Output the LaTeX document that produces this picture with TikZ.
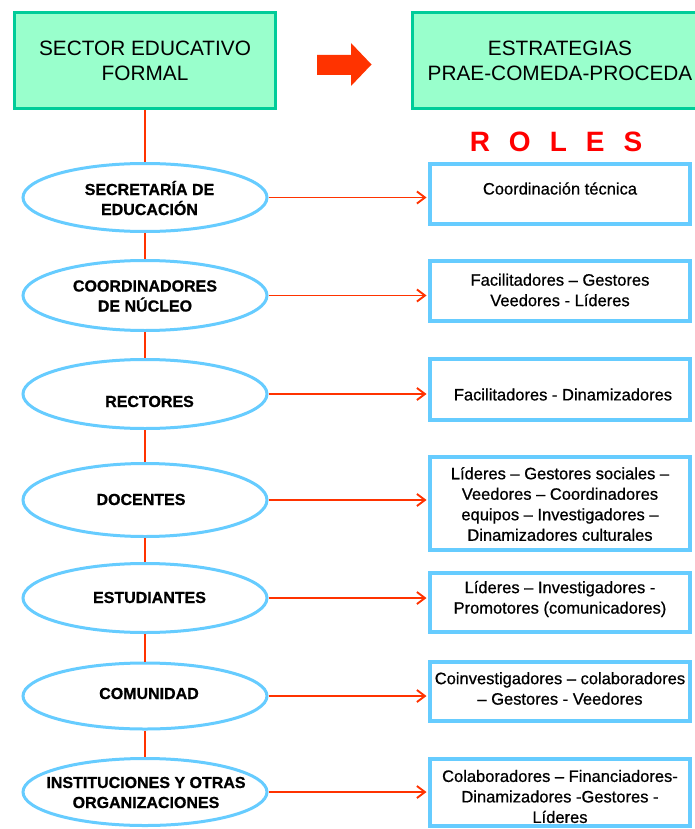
\documentclass[tikz,border=0pt]{standalone}
\usepackage{fontspec}
\setmainfont{Liberation Sans}
\newfontfamily\rolefont{Liberation Sans}[FakeBold=0.7]
\newfontfamily\actorfont{Liberation Sans Bold}[FakeBold=0.9]
\usetikzlibrary{shapes.geometric,arrows.meta}
\definecolor{mintfill}{HTML}{99FFCC}
\definecolor{mintline}{HTML}{00CC99}
\definecolor{skyline}{HTML}{66CCFF}
\definecolor{linkred}{HTML}{FF3300}
\definecolor{rolered}{HTML}{FF0000}
\begin{document}
\begin{tikzpicture}[x=1pt,y=-1pt,
  headbox/.style={draw=mintline, fill=mintfill, line width=3pt, minimum width=261pt, minimum height=96pt, inner sep=0pt, align=center, font=\fontsize{20.8}{25}\selectfont},
  actor/.style={ellipse, draw=skyline, line width=3pt, fill=white, minimum width=244pt, inner sep=0pt},
  actortext/.style={font=\actorfont\fontsize{16}{20}\selectfont, align=center, inner sep=0pt},
  rolebox/.style={draw=skyline, line width=4pt, fill=white, minimum width=260pt, inner sep=0pt},
  roletext/.style={font=\rolefont\fontsize{16.5}{20.5}\selectfont, align=center, inner sep=0pt},
  link/.style={draw=linkred, line width=1.9pt},
  roleto/.style={link, -{Straight Barb[length=8pt,width=12pt]}, shorten >=1.5pt}
]
\useasboundingbox (0,0) rectangle (695,829);
\fill[white] (0,0) rectangle (695,829);

% headers
\node[headbox] (sector) at (145,60.5) {SECTOR EDUCATIVO\\FORMAL};
\node[headbox, minimum width=295pt] (estr) at (560,60.5) {ESTRATEGIAS\\PRAE-COMEDA-PROCEDA};
\fill[linkred] (317,55) -- (351,55) -- (351,43) -- (371.5,64.5) -- (351,86) -- (351,75) -- (317,75) -- cycle;
\node[font=\bfseries\fontsize{28}{30}\selectfont, text=rolered, inner sep=0pt] (roles) at (556,142) {R\hspace{19pt}O\hspace{19pt}L\hspace{19pt}E\hspace{19pt}S};

% actors
\node[actor, minimum height=68pt] (e1) at (145,197.5) {};
\node[actor, minimum height=70pt] (e2) at (145,295.5) {};
\node[actor, minimum height=69pt] (e3) at (145,394) {};
\node[actor, minimum height=73pt] (e4) at (145,500) {};
\node[actor, minimum height=69pt] (e5) at (145,598) {};
\node[actor, minimum height=66pt] (e6) at (145,696) {};
\node[actor, minimum height=67pt] (e7) at (145,792) {};

\node[actortext] (e1t) at (149.5,198) {SECRETARÍA DE\\EDUCACIÓN};
\node[actortext] (e2t) at (145,296) {COORDINADORES\\DE NÚCLEO};
\node[actortext] (e3t) at (149.5,401.5) {RECTORES};
\node[actortext] (e4t) at (141,499.5) {DOCENTES};
\node[actortext] (e5t) at (149.5,597.5) {ESTUDIANTES};
\node[actortext] (e6t) at (149,693.5) {COMUNIDAD};
\node[actortext] (e7t) at (146,792.5) {INSTITUCIONES Y OTRAS\\ORGANIZACIONES};

% role boxes
\node[rolebox, minimum height=60pt] (b1) at (560,194) {};
\node[rolebox, minimum height=60pt] (b2) at (560,291) {};
\node[rolebox, minimum height=61pt] (b3) at (560,389.5) {};
\node[rolebox, minimum height=93pt] (b4) at (560,503.5) {};
\node[rolebox, minimum height=59pt] (b5) at (560,602.5) {};
\node[rolebox, minimum height=59pt] (b6) at (560,691.5) {};
\node[rolebox, minimum height=67pt] (b7) at (560,792.5) {};

\node[roletext] (b1t) at (560,188.5) {Coordinación técnica};
\node[roletext] (b2t) at (560,290) {Facilitadores – Gestores\\Veedores - Líderes};
\node[roletext] (b3t) at (563,394.5) {Facilitadores - Dinamizadores};
\node[roletext] (b4t) at (560,504) {Líderes – Gestores sociales –\\Veedores – Coordinadores\\equipos – Investigadores –\\Dinamizadores culturales};
\node[roletext] (b5t) at (560,599) {Líderes – Investigadores -\\Promotores (comunicadores)};
\node[roletext] (b6t) at (560,688.5) {Coinvestigadores – colaboradores\\– Gestores - Veedores};
\node[roletext] (b7t) at (560,796.5) {Colaboradores – Financiadores-\\Dinamizadores -Gestores -\\Líderes};

% vertical spine
\draw[link] (sector.south) -- (e1.north);
\draw[link] (e1.south) -- (e2.north);
\draw[link] (e2.south) -- (e3.north);
\draw[link] (e3.south) -- (e4.north);
\draw[link] (e4.south) -- (e5.north);
\draw[link] (e5.south) -- (e6.north);
\draw[link] (e6.south) -- (e7.north);

% arrows to roles
\draw[roleto] (e1.east) -- (e1.east -| b1.west);
\draw[roleto] (e2.east) -- (e2.east -| b2.west);
\draw[roleto] (e3.east) -- (e3.east -| b3.west);
\draw[roleto] (e4.east) -- (e4.east -| b4.west);
\draw[roleto] (e5.east) -- (e5.east -| b5.west);
\draw[roleto] (e6.east) -- (e6.east -| b6.west);
\draw[roleto] (e7.east) -- (e7.east -| b7.west);
\end{tikzpicture}
\end{document}
